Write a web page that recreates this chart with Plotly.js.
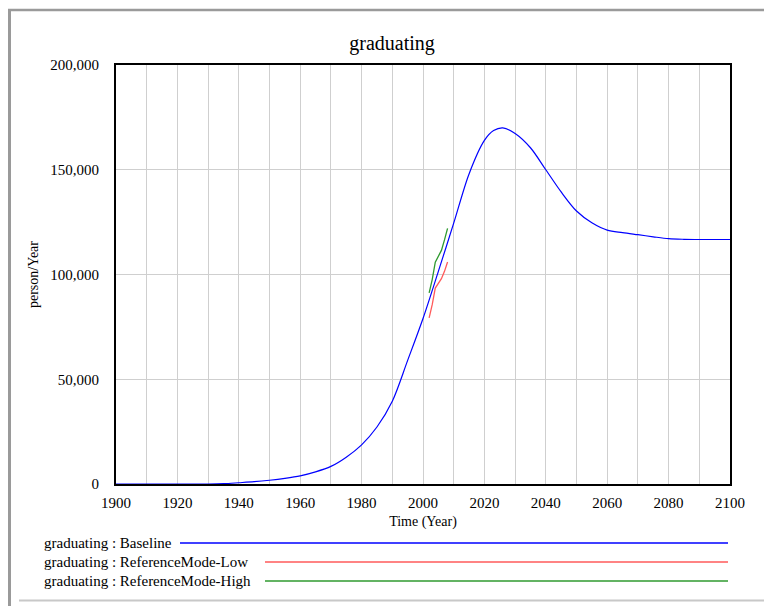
<!DOCTYPE html>
<html>
<head>
<meta charset="utf-8">
<script src="https://cdn.plot.ly/plotly-3.0.1.min.js"></script>
<style>
html,body{margin:0;padding:0;background:#fff;}
#chart{width:764px;height:606px;}
</style>
</head>
<body>
<div id="chart"></div>
<script>
// ---- data ----
const baselineYears = [1900,1910,1920,1930,1935,1940,1945,1950,1955,1960,1965,1970,1975,1980,1985,1990,1995,2000,2005,2010,2015,2020,2023,2026,2030,2035,2040,2045,2050,2055,2060,2065,2070,2075,2080,2085,2090,2095,2100];
const baselineValues = [0,0,0,0,150,600,1100,1800,2700,3900,5800,8400,12800,18700,27200,39500,59000,79000,101500,124500,148000,164000,168700,170000,167300,160500,150000,139400,130300,124700,121200,120000,119000,118000,117100,116800,116700,116700,116700];
const refYears = [2002,2003,2004,2005,2006,2007,2008];
const refLowValues = [79300,85600,93500,95500,98000,101500,106000];
const refHighValues = [91200,97600,105900,109000,111500,116500,122000];
const seriesNames = ["graduating : Baseline","graduating : ReferenceMode-Low","graduating : ReferenceMode-High"];
const seriesColors = ["#0000ff","#ff5a5a","#2f9a2f"];
const xTicks = [1900,1920,1940,1960,1980,2000,2020,2040,2060,2080,2100];
const yTicks = [0,50000,100000,150000,200000];

// ---- layout helpers (pixel -> paper) ----
const L=116, R=730, T=65, B=484;
const px = x => (x-L)/(R-L);
const py = y => (B-y)/(B-T);

const traces = [
  {x: baselineYears, y: baselineValues, name: seriesNames[0], mode:'lines', line:{color:seriesColors[0], width:1.2, shape:'spline', smoothing:0.9}},
  {x: refYears, y: refLowValues, name: seriesNames[1], mode:'lines', line:{color:seriesColors[1], width:1.3}},
  {x: refYears, y: refHighValues, name: seriesNames[2], mode:'lines', line:{color:seriesColors[2], width:1.3}}
];

const serif = 'Liberation Serif, Times New Roman, serif';
const legendRows = [543, 562, 581];
const legendLineStart = [180, 265, 265];

const shapes = [
  // window frame
  {type:'line', xref:'paper', yref:'paper', x0:px(9.5), x1:px(9.5), y0:py(9), y1:py(606), line:{color:'#9a9a9a', width:3}},
  {type:'line', xref:'paper', yref:'paper', x0:px(8), x1:px(764), y0:py(10), y1:py(10), line:{color:'#9a9a9a', width:2.5}},
  {type:'line', xref:'paper', yref:'paper', x0:px(19), x1:px(764), y0:py(600.5), y1:py(600.5), line:{color:'#c8c8c8', width:2}}
];
const annotations = [];
seriesNames.forEach((n,i)=>{
  shapes.push({type:'line', xref:'paper', yref:'paper', x0:px(legendLineStart[i]), x1:px(728), y0:py(legendRows[i]), y1:py(legendRows[i]), line:{color:seriesColors[i], width:1.3}});
  annotations.push({xref:'paper', yref:'paper', x:px(42), y:py(legendRows[i]), xanchor:'left', yanchor:'middle', text:n, showarrow:false, font:{family:serif, size:15, color:'#000'}});
});

const layout = {
  width:764, height:606,
  margin:{l:L, r:764-R, t:T, b:606-B, pad:0},
  paper_bgcolor:'#fff', plot_bgcolor:'#fff',
  showlegend:false,
  title:{text:'graduating', font:{family:serif, size:20, color:'#000'}, x:392/764, xref:'container', y:(606-43)/606, yref:'container', xanchor:'center', yanchor:'middle'},
  xaxis:{
    range:[1900,2100], tickvals:xTicks, ticks:'', showgrid:true, gridcolor:'#cfcfcf', gridwidth:1,
    minor:{dtick:10, tick0:1900, showgrid:true, gridcolor:'#cfcfcf', gridwidth:1, ticks:''},
    showline:true, linecolor:'#000', linewidth:2, mirror:true, zeroline:false,
    tickfont:{family:serif, size:15, color:'#000'}, ticklabelstandoff:4,
    title:{text:'Time (Year)', font:{family:serif, size:14, color:'#000'}, standoff:6}
  },
  yaxis:{
    range:[0,200000], tickvals:yTicks, tickformat:',d', ticks:'', showgrid:true, gridcolor:'#cfcfcf', gridwidth:1,
    showline:true, linecolor:'#000', linewidth:2, mirror:true, zeroline:false,
    tickfont:{family:serif, size:15, color:'#000'}, ticklabelstandoff:12,
    title:{text:'person/Year', font:{family:serif, size:14, color:'#000'}, standoff:8}
  },
  shapes:shapes,
  annotations:annotations,
  separators:'.,'
};

Plotly.newPlot('chart', traces, layout, {displayModeBar:false, staticPlot:true});
</script>
</body>
</html>
